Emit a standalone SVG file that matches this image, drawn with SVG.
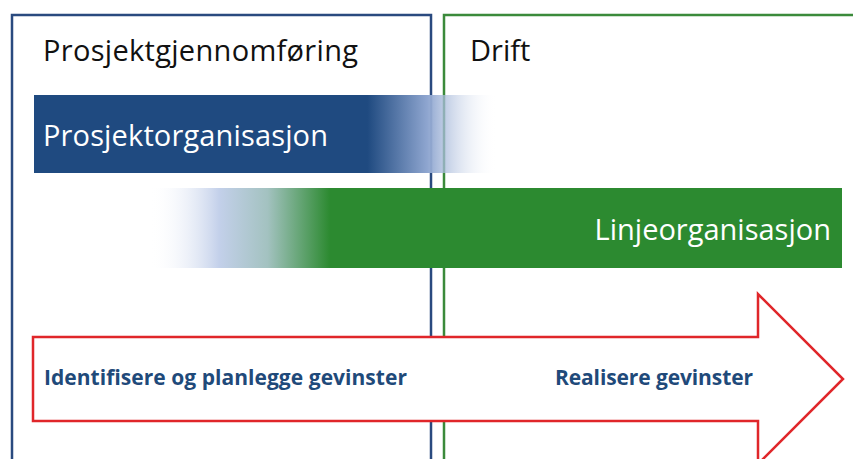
<svg xmlns="http://www.w3.org/2000/svg" width="853" height="459" viewBox="0 0 853 459">
<defs>
<linearGradient id="gBlue" x1="34" y1="0" x2="497" y2="0" gradientUnits="userSpaceOnUse">
<stop offset="0" stop-color="#1f4a80"/>
<stop offset="0.72" stop-color="#1f4a80"/>
<stop offset="0.85" stop-color="#8fa6d0"/>
<stop offset="1" stop-color="#ffffff" stop-opacity="0"/>
</linearGradient>
<linearGradient id="gGreen" x1="150" y1="0" x2="842" y2="0" gradientUnits="userSpaceOnUse">
<stop offset="0" stop-color="#ffffff" stop-opacity="0"/>
<stop offset="0.1" stop-color="#c3d0ea"/>
<stop offset="0.17" stop-color="#a3c2c0"/>
<stop offset="0.26" stop-color="#2c8a30"/>
<stop offset="1" stop-color="#2c8a30"/>
</linearGradient>
<style>
.lbl{font-family:"Open Sans","Liberation Sans",sans-serif;}
.hd{font-size:29px;fill:#111;}
.bar{font-size:29px;fill:#fff;}
.ar{font-size:21px;font-weight:bold;fill:#1f4a7a;}
</style>
</defs>
<rect width="853" height="459" fill="#fff"/>
<g id="prosjektgjennomforing">
<rect x="12" y="15" width="419" height="460" fill="none" stroke="#2a4a7f" stroke-width="2.5"/>
<text class="lbl hd" x="43" y="61" textLength="315">Prosjektgjennomføring</text>
</g>
<g id="drift">
<rect x="444" y="15" width="420" height="460" fill="none" stroke="#3b8a3b" stroke-width="2.5"/>
<text class="lbl hd" x="470" y="61">Drift</text>
</g>
<g id="prosjektorganisasjon">
<rect x="34" y="95" width="463" height="78" fill="url(#gBlue)"/>
<text class="lbl bar" x="43" y="146" textLength="285">Prosjektorganisasjon</text>
</g>
<g id="linjeorganisasjon">
<rect x="150" y="188" width="692" height="80" fill="url(#gGreen)"/>
<text class="lbl bar" x="831" y="240" text-anchor="end">Linjeorganisasjon</text>
</g>
<g id="gevinster">
<path d="M33,337 H758 V294 L843,379 L758,464 V421 H33 Z" fill="#fff" stroke="#e0262a" stroke-width="2.5"/>
<text class="lbl ar" x="44" y="385" textLength="363">Identifisere og planlegge gevinster</text>
<text class="lbl ar" x="555" y="385" textLength="198">Realisere gevinster</text>
</g>
<g id="connectors"/>
</svg>
